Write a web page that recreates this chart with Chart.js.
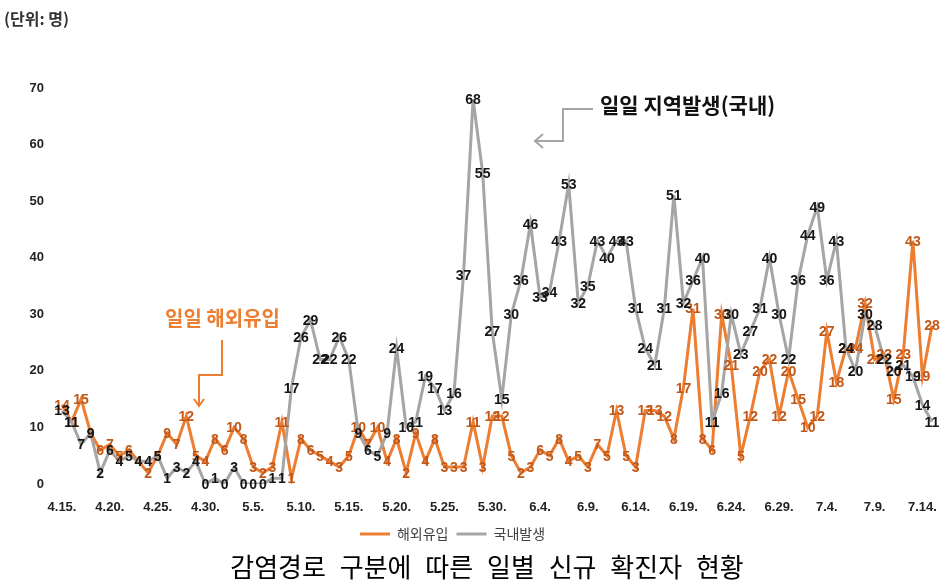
<!DOCTYPE html>
<html><head><meta charset="utf-8">
<script src="https://cdn.jsdelivr.net/npm/chart.js@4"></script>
<style>
html,body{margin:0;padding:0;background:#fff;}
#wrap{position:relative;width:948px;height:582px;overflow:hidden;background:#fff;}
#c{position:absolute;left:0;top:0;}
.t{position:absolute;white-space:nowrap;font-family:"Noto Sans CJK KR","Noto Sans",sans-serif;line-height:1;}
svg{position:absolute;left:0;top:0;pointer-events:none;}
</style></head><body>
<div id="wrap">
<canvas id="c" width="948" height="582"></canvas>
<svg width="948" height="582">
  <g stroke="#A5A5A5" stroke-width="2" fill="none">
    <polyline points="593,109 563,109 563,141 535,141"/>
    <polyline points="543,134 535,141 543,148"/>
  </g>
  <g stroke="#ED7D31" stroke-width="2" fill="none">
    <polyline points="222,340 222,375 199,375 199,406"/>
    <polyline points="194,399 199,406 204,399"/>
  </g>
</svg>
<div class="t" style="left:4px;top:10px;font-size:16px;font-weight:bold;color:#333;">(단위: 명)</div>
<div class="t" style="left:600px;top:94px;font-size:21px;font-weight:bold;color:#111;">일일 지역발생(국내)</div>
<div class="t" style="left:165px;top:308px;font-size:20px;font-weight:bold;color:#ED7D31;">일일 해외유입</div>
<div class="t" style="left:13px;width:948px;text-align:center;top:553px;font-size:26px;color:#000;word-spacing:8px;">감염경로 구분에 따른 일별 신규 확진자 현황</div>
</div>
<script>
const dates = [
 '4.15.','4.16.','4.17.','4.18.','4.19.','4.20.','4.21.','4.22.','4.23.','4.24.','4.25.','4.26.','4.27.','4.28.','4.29.','4.30.',
 '5.1.','5.2.','5.3.','5.4.','5.5.','5.6.','5.7.','5.8.','5.9.','5.10.','5.11.','5.12.','5.13.','5.14.','5.15.','5.16.','5.17.','5.18.','5.19.','5.20.','5.21.','5.22.','5.23.','5.24.','5.25.','5.26.','5.27.','5.28.','5.29.','5.30.','5.31.',
 '6.1.','6.2.','6.3.','6.4.','6.5.','6.6.','6.7.','6.8.','6.9.','6.10.','6.11.','6.12.','6.13.','6.14.','6.15.','6.16.','6.17.','6.18.','6.19.','6.20.','6.21.','6.22.','6.23.','6.24.','6.25.','6.26.','6.27.','6.28.','6.29.','6.30.',
 '7.1.','7.2.','7.3.','7.4.','7.5.','7.6.','7.7.','7.8.','7.9.','7.10.','7.11.','7.12.','7.13.','7.14.','7.15.'
];
const tickLabels = ['4.15.','4.20.','4.25.','4.30.','5.5.','5.10.','5.15.','5.20.','5.25.','5.30.','6.4.','6.9.','6.14.','6.19.','6.24.','6.29.','7.4.','7.9.','7.14.'];
const imported = [
 14,11,15,9,6,7,5,6,4,2,
 5,9,7,12,5,4,8,6,10,8,
 3,2,3,11,1,8,6,5,4,3,
 5,10,7,10,4,8,2,9,4,8,
 3,3,3,11,3,12,12,5,2,3,
 6,5,8,4,5,3,7,5,13,5,
 3,13,13,12,8,17,31,8,6,30,
 21,5,12,20,22,12,20,15,10,12,
 27,18,24,24,32,22,23,15,23,43,
 19,28
];
const domestic = [
 13,11,7,9,2,6,4,5,4,4,
 5,1,3,2,4,0,1,0,3,0,
 0,0,1,1,17,26,29,22,22,26,
 22,9,6,5,9,24,10,11,19,17,
 13,16,37,68,55,27,15,30,36,46,
 33,34,43,53,32,35,43,40,43,43,
 31,24,21,31,51,32,36,40,11,16,
 30,23,27,31,40,30,22,36,44,49,
 36,43,24,20,30,28,22,20,21,19,
 14,11
];
const seriesNames = ['해외유입','국내발생'];

const numFont = '"Liberation Sans", Arial, sans-serif';

const pointLabels = {
  id: 'pointLabels',
  afterDatasetsDraw(chart) {
    const ctx = chart.ctx;
    [0, 1].forEach(i => {
      const ds = chart.data.datasets[i];
      const meta = chart.getDatasetMeta(i);
      ctx.save();
      ctx.font = 'bold 14px ' + numFont;
      ctx.fillStyle = ds.labelColor;
      ctx.textAlign = 'center';
      ctx.textBaseline = 'middle';
      meta.data.forEach((pt, j) => ctx.fillText(String(ds.data[j]), pt.x, pt.y + 1));
      ctx.restore();
    });
  }
};

const legendShift = {
  id: 'legendShift',
  afterLayout(chart) {
    const lg = chart.legend;
    if (lg) { lg.left -= 34; lg.right -= 0; }
  }
};

new Chart(document.getElementById('c'), {
  type: 'line',
  data: {
    labels: dates,
    datasets: [
      { label: seriesNames[0], data: imported, order: 1, borderColor: '#ED7D31', backgroundColor: '#ED7D31', borderWidth: 3, pointRadius: 0, tension: 0, fill: false, labelColor: '#C0581A' },
      { label: seriesNames[1], data: domestic, order: 0, borderColor: '#A5A5A5', backgroundColor: '#A5A5A5', borderWidth: 3, pointRadius: 0, tension: 0, fill: false, labelColor: '#151515' }
    ]
  },
  options: {
    responsive: false,
    animation: false,
    events: [],
    layout: { padding: { left: 0, right: 9, top: 88, bottom: 31 } },
    plugins: {
      tooltip: { enabled: false },
      title: { display: false },
      legend: {
        position: 'bottom',
        labels: {
          usePointStyle: true, pointStyle: 'line', pointStyleWidth: 30,
          padding: 8, color: '#404040',
          font: { family: '"Noto Sans CJK KR", sans-serif', size: 14 },
          sort: (a, b) => a.datasetIndex - b.datasetIndex
        }
      }
    },
    scales: {
      x: {
        offset: false,
        grid: { display: false, drawTicks: false },
        border: { display: false },
        ticks: {
          autoSkip: false, maxRotation: 0, minRotation: 0, padding: 16,
          color: '#222', font: { family: numFont, size: 13, weight: 'bold' },
          callback: function(v, i) { const l = dates[i]; return tickLabels.includes(l) ? l : ''; }
        },
        afterFit(s) { s.height = 35; }
      },
      y: {
        min: 0, max: 70,
        grid: { display: false, drawTicks: false },
        border: { display: false },
        ticks: { stepSize: 10, padding: 18, color: '#222', font: { family: numFont, size: 13, weight: 'bold' } },
        afterFit(s) { s.width = 62; }
      }
    }
  },
  plugins: [pointLabels, legendShift]
});
</script>
</body></html>
